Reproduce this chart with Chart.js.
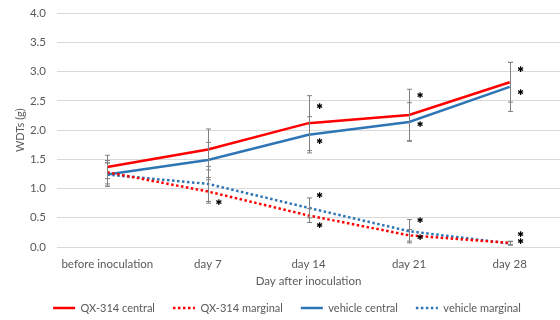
<!DOCTYPE html>
<html>
<head>
<meta charset="utf-8">
<script src="https://cdn.jsdelivr.net/npm/chart.js@4"></script>
<style>
html,body{margin:0;padding:0;background:#fff;}
#wrap{width:560px;height:320px;position:relative;}
</style>
</head>
<body>
<div id="wrap"><canvas id="c" width="560" height="320"></canvas></div>
<script>
const categories = ['before inoculation', 'day 7', 'day 14', 'day 21', 'day 28'];
const qxCentral   = [1.37, 1.67, 2.12, 2.26, 2.82];
const qxMarginal  = [1.28, 0.95, 0.54, 0.20, 0.07];
const vehCentral  = [1.24, 1.49, 1.92, 2.14, 2.74];
const vehMarginal = [1.24, 1.08, 0.67, 0.27, 0.06];
const qxCentralErr   = [0.20, 0.35, 0.47, 0.44, 0.34];
const qxMarginalErr  = [0.20, 0.20, 0.12, 0.10, 0.03];
const vehCentralErr  = [0.20, 0.30, 0.31, 0.33, 0.42];
const vehMarginalErr = [0.20, 0.30, 0.17, 0.20, 0.03];
const starCentralUpper  = [null, null, 2.39, 2.58, 3.03];
const starCentralLower  = [null, null, 1.79, 2.09, 2.63];
const starMarginalUpper = [null, null, 0.88, 0.45, 0.21];
const starMarginalLower = [null, 0.75, 0.36, 0.15, 0.085];
const yTicks = [0, 0.5, 1, 1.5, 2, 2.5, 3, 3.5, 4];

const RED = '#FF0000';
const BLUE = '#2E75B6';
const TXT = '#595959';
const FONT = 'Lato, "Open Sans", sans-serif';

const errorBarPlugin = {
  id: 'errorBars',
  afterDatasetsDraw(chart) {
    const ctx = chart.ctx;
    const x = chart.scales.x, y = chart.scales.y;
    ctx.save();
    ctx.strokeStyle = '#808080';
    ctx.lineWidth = 1;
    chart.data.datasets.forEach(ds => {
      if (!ds.errors) return;
      ds.data.forEach((v, i) => {
        const e = ds.errors[i];
        const px = Math.round(x.getPixelForValue(i)) + 0.5;
        const top = y.getPixelForValue(v + e);
        const bot = y.getPixelForValue(v - e);
        ctx.beginPath();
        ctx.moveTo(px, top); ctx.lineTo(px, bot);
        ctx.moveTo(px - 2.5, top); ctx.lineTo(px + 2.5, top);
        ctx.moveTo(px - 2.5, bot); ctx.lineTo(px + 2.5, bot);
        ctx.stroke();
      });
    });
    ctx.fillStyle = '#000';
    ctx.font = '8px "DejaVu Sans"';
    ctx.textAlign = 'center';
    ctx.textBaseline = 'middle';
    [starCentralUpper, starCentralLower, starMarginalUpper, starMarginalLower].forEach(arr => {
      arr.forEach((v, i) => {
        if (v === null) return;
        ctx.fillText('\u2731', x.getPixelForValue(i) + 11, y.getPixelForValue(v));
      });
    });
    ctx.restore();
  }
};

new Chart(document.getElementById('c'), {
  type: 'line',
  data: {
    labels: categories,
    datasets: [
      { label: 'QX-314 central', data: qxCentral, errors: qxCentralErr, borderColor: RED, backgroundColor: RED, borderWidth: 2.5, pointRadius: 0, tension: 0 },
      { label: 'QX-314 marginal', data: qxMarginal, errors: qxMarginalErr, borderColor: RED, backgroundColor: RED, borderWidth: 2.5, borderDash: [2.5, 2.5], pointRadius: 0, tension: 0 },
      { label: 'vehicle central', data: vehCentral, errors: vehCentralErr, borderColor: BLUE, backgroundColor: BLUE, borderWidth: 2.5, pointRadius: 0, tension: 0 },
      { label: 'vehicle marginal', data: vehMarginal, errors: vehMarginalErr, borderColor: BLUE, backgroundColor: BLUE, borderWidth: 2.5, borderDash: [2.5, 2.5], pointRadius: 0, tension: 0 }
    ]
  },
  options: {
    responsive: false,
    animation: false,
    devicePixelRatio: 1,
    layout: { padding: { top: 0, right: 0, left: 14, bottom: -3.5 } },
    plugins: {
      tooltip: { enabled: false },
      legend: {
        position: 'bottom',
        labels: {
          usePointStyle: true,
          pointStyle: 'line',
          pointStyleWidth: 22,
          boxHeight: 8,
          color: TXT,
          font: { family: FONT, size: 11 },
          padding: 18,
          generateLabels(chart) {
            return chart.data.datasets.map((ds, i) => ({
              text: ds.label,
              fillStyle: ds.borderColor,
              strokeStyle: ds.borderColor,
              fontColor: TXT,
              lineWidth: 2.5,
              lineDash: ds.borderDash || [],
              lineCap: 'butt',
              pointStyle: 'line',
              hidden: false,
              datasetIndex: i
            }));
          }
        }
      }
    },
    scales: {
      x: {
        offset: true,
        afterFit(scale) { scale.height = 37.5; },
        grid: { display: false, drawTicks: false },
        border: { display: false },
        ticks: { color: TXT, font: { family: FONT, size: 11.5 }, padding: 10, maxRotation: 0, autoSkip: false },
        title: { display: true, text: 'Day after inoculation', color: TXT, font: { family: FONT, size: 11.5 }, padding: { top: 0, bottom: -3.4 } }
      },
      y: {
        min: 0, max: 4,
        afterFit(scale) { scale.width = 43; scale.paddingTop = 13.3; },
        afterBuildTicks(scale) { scale.ticks = yTicks.map(v => ({ value: v })); },
        grid: { color: '#d9d9d9', drawTicks: false, lineWidth: 1 },
        border: { display: false },
        ticks: { color: TXT, font: { family: FONT, size: 11.5 }, padding: 11, callback: v => Number(v).toFixed(1) },
        title: { display: true, text: 'WDTs (g)', color: TXT, font: { family: FONT, size: 11 }, padding: { top: 0, bottom: 0 } }
      }
    }
  },
  plugins: [errorBarPlugin]
});
</script>
</body>
</html>
